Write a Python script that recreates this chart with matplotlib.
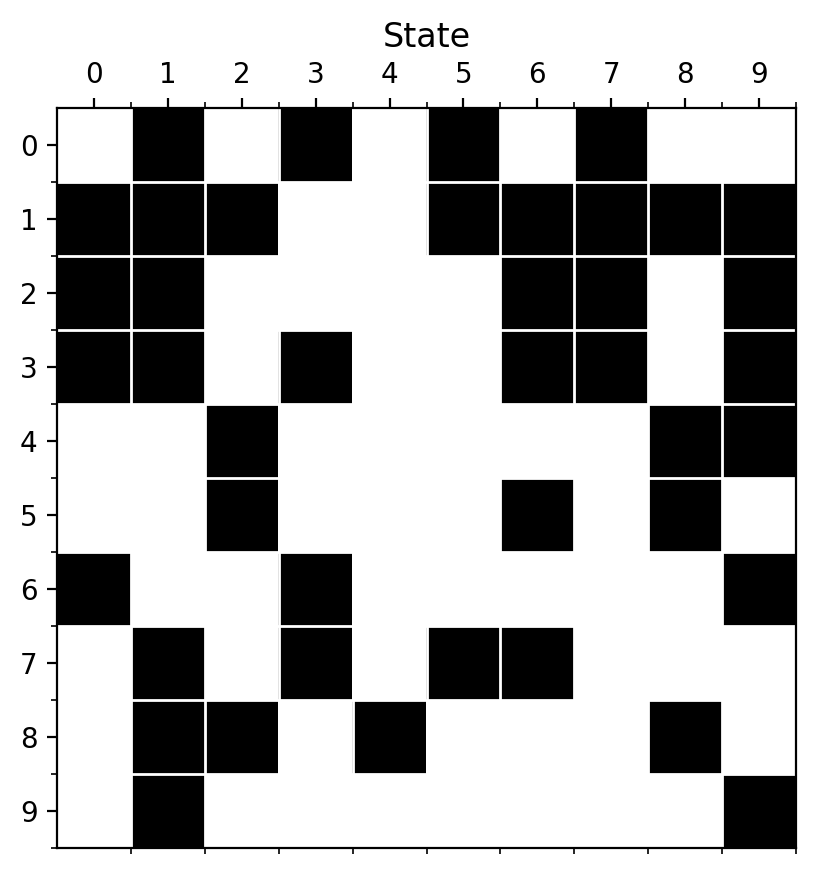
import numpy as np
import matplotlib
matplotlib.use("Agg")
import matplotlib.pyplot as plt

states = list(range(10))
tick_labels = [str(s) for s in states]
row0 = [0, 1, 0, 1, 0, 1, 0, 1, 0, 0]
row1 = [1, 1, 1, 0, 0, 1, 1, 1, 1, 1]
row2 = [1, 1, 0, 0, 0, 0, 1, 1, 0, 1]
row3 = [1, 1, 0, 1, 0, 0, 1, 1, 0, 1]
row4 = [0, 0, 1, 0, 0, 0, 0, 0, 1, 1]
row5 = [0, 0, 1, 0, 0, 0, 1, 0, 1, 0]
row6 = [1, 0, 0, 1, 0, 0, 0, 0, 0, 1]
row7 = [0, 1, 0, 1, 0, 1, 1, 0, 0, 0]
row8 = [0, 1, 1, 0, 1, 0, 0, 0, 1, 0]
row9 = [0, 1, 0, 0, 0, 0, 0, 0, 0, 1]
matrix = np.array([row0, row1, row2, row3, row4, row5, row6, row7, row8, row9])

fig = plt.figure(figsize=(4.08, 4.37), dpi=200)
ax = fig.add_axes([57/816, 1-848/874, (796-57)/816, (848-108)/874])
ax.imshow(matrix, cmap="Greys", vmin=0, vmax=1, aspect="auto", interpolation="nearest")

ax.set_xticks(states)
ax.set_xticklabels(tick_labels)
ax.set_yticks(states)
ax.set_yticklabels(tick_labels)
ax.set_xticks(np.arange(0.5, 10, 1), minor=True)
ax.set_yticks(np.arange(0.5, 10, 1), minor=True)
ax.tick_params(which="major", top=True, bottom=False, labeltop=True, labelbottom=False,
               left=True, right=False, labelsize=10)
ax.tick_params(which="minor", top=True, bottom=True, left=True, right=False)
ax.xaxis.set_label_position("top")
ax.set_xlabel("State", fontsize=12, labelpad=5)
ax.grid(which="minor", color="w", linewidth=1)
ax.grid(which="major", visible=False)
ax.set_xlim(-0.5, 9.5)
ax.set_ylim(9.5, -0.5)

fig.savefig("out.png", dpi=200)
